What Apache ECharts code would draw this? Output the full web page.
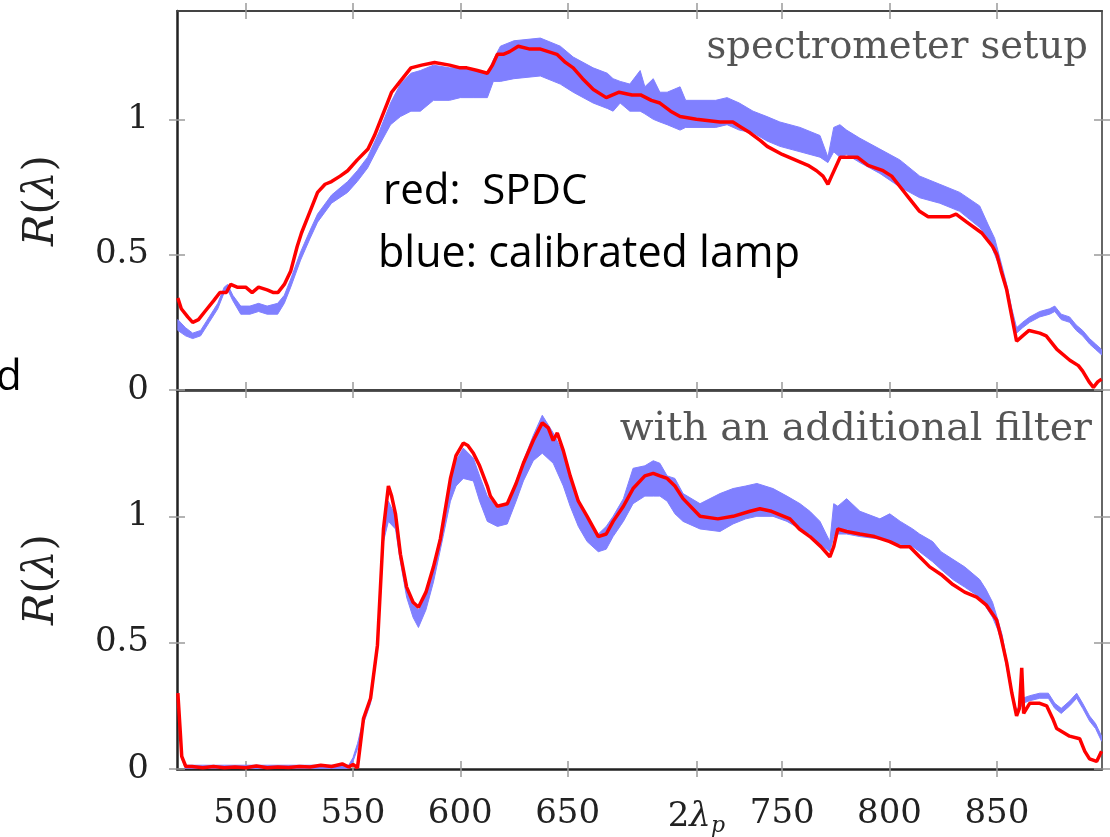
<!DOCTYPE html>
<html><head><meta charset="utf-8">
<script src="https://cdn.jsdelivr.net/npm/echarts@6/dist/echarts.min.js"></script>
<style>html,body{margin:0;padding:0;background:#fff}#c{width:1110px;height:837px}</style>
</head><body><div id="c"></div>
<script>
// ---------- data ----------
const xTickValues = [500, 550, 600, 650, 710, 750, 800, 850]; // 710 = 2*lambda_p
const yTickValues = [0, 0.5, 1];
const topTitle = 'spectrometer setup';
const bottomTitle = 'with an additional filter';
const noteRed = 'red:  SPDC';
const noteBlue = 'blue: calibrated lamp';

// top panel, SPDC (red): [wavelength nm, R]
const topSPDC = [
 [468.4,0.34],[470,0.30],[473,0.27],[475.3,0.25],[478,0.26],[481,0.29],[485.1,0.33],[488,0.36],[491,0.36],[493,0.39],
 [496,0.38],[500,0.38],[503,0.36],[506,0.38],[510,0.37],[513,0.36],[515,0.36],[518,0.39],[521,0.44],[524,0.53],
 [526,0.58],[530,0.66],[533.5,0.73],[537,0.76],[540,0.77],[544,0.79],[547.5,0.81],[552,0.85],[557,0.89],[560,0.94],
 [563,1.00],[566,1.06],[568,1.10],[572,1.14],[577,1.19],[582,1.20],[588,1.21],[595,1.20],[600,1.19],[603,1.19],
 [608,1.18],[612.6,1.17],[615,1.20],[617.3,1.24],[620,1.24],[623,1.25],[627,1.27],[632,1.26],[637,1.26],[641,1.25],
 [645,1.24],[649,1.21],[652.6,1.19],[657,1.15],[662,1.11],[668,1.08],[674,1.10],[680,1.09],[684,1.09],[689,1.07],
 [693,1.06],[698,1.03],[702.4,1.01],[710,1.00],[721,0.99],[727,0.99],[731,0.97],[735,0.95],[740,0.92],[743,0.90],
 [750,0.87],[756,0.85],[762,0.83],[766,0.81],[769,0.79],[771.3,0.76],[773,0.79],[777,0.86],[781,0.86],[785,0.86],
 [790,0.83],[797,0.81],[801,0.79],[805,0.75],[809,0.71],[814,0.66],[818,0.64],[823,0.64],[828,0.64],[831,0.65],
 [836,0.62],[843,0.58],[848,0.53],[850,0.50],[852,0.44],[854.6,0.37],[857,0.27],[859.2,0.18],[862,0.20],[865,0.22],
 [870,0.21],[873,0.20],[878,0.15],[884,0.11],[888,0.09],[890,0.07],[893,0.03],[895,0.01],[897,0.03],[898.8,0.04]
];
// top panel, calibrated lamp (blue band): [wavelength nm, low, high]
const topLamp = [
 [468.4,0.22,0.26],[472,0.20,0.23],[475.3,0.19,0.21],[479,0.20,0.22],[483,0.25,0.27],[487,0.30,0.32],[490,0.36,0.38],
 [491.6,0.37,0.39],[494,0.33,0.35],[497.7,0.28,0.31],[502,0.28,0.31],[506,0.29,0.32],[510,0.28,0.31],[514.9,0.28,0.32],
 [518,0.32,0.35],[521,0.38,0.41],[525.6,0.48,0.51],[530,0.56,0.59],[533.5,0.62,0.65],[540,0.69,0.72],[547.5,0.73,0.77],
 [552,0.77,0.81],[556.8,0.82,0.86],[562,0.90,0.95],[567.5,0.98,1.06],[572.1,1.01,1.13],[577,1.03,1.17],[581.4,1.03,1.18],
 [587.5,1.07,1.20],[595,1.07,1.19],[600,1.08,1.19],[606,1.08,1.18],[612.6,1.08,1.17],[615.4,1.14,1.22],[618.7,1.14,1.27],
 [625,1.15,1.29],[637.3,1.16,1.30],[646.6,1.13,1.27],[652.6,1.10,1.23],[661.9,1.06,1.19],[668.5,1.04,1.17],[671.2,1.03,1.15],
 [674.5,1.06,1.14],[679,1.03,1.13],[683.8,1.03,1.18],[686,1.02,1.12],[689.9,1.00,1.15],[693,0.99,1.10],[696.4,0.98,1.10],
 [702.4,0.96,1.12],[705,0.97,1.07],[711.7,0.97,1.07],[719,0.97,1.07],[724.3,0.98,1.08],[730,0.96,1.06],[736.4,0.95,1.03],
 [742.9,0.92,1.01],[748.9,0.90,0.99],[758.3,0.88,0.97],[767.6,0.86,0.94],[771.3,0.84,0.86],[774,0.88,0.97],[776.9,0.86,0.98],
 [780,0.87,0.96],[786.2,0.84,0.93],[795.5,0.80,0.89],[804.8,0.75,0.85],[814.1,0.71,0.79],[823.4,0.69,0.76],[832.7,0.66,0.73],
 [842,0.60,0.68],[846,0.56,0.61],[849,0.50,0.56],[852,0.44,0.47],[854.6,0.36,0.39],[857,0.28,0.30],[859.2,0.21,0.23],
 [862,0.23,0.25],[865.3,0.25,0.27],[870,0.27,0.29],[874.6,0.28,0.30],[877,0.29,0.31],[880,0.26,0.28],[883.9,0.25,0.27],
 [887,0.22,0.24],[890,0.20,0.22],[893.2,0.17,0.19],[896,0.15,0.17],[898.8,0.13,0.15]
];
// bottom panel, SPDC (red)
const bottomSPDC = [
 [468.4,0.30],[469.5,0.15],[470.2,0.05],[472.1,0.01],[475,0.01],[480,0.005],[485,0.01],[490,0.005],[495,0.008],[500,0.005],
 [505,0.012],[510,0.005],[515,0.008],[520,0.006],[525,0.01],[530,0.008],[535,0.015],[540,0.01],[545,0.02],[548,0.008],
 [550,0.018],[552.1,0.005],[554.9,0.20],[558.2,0.28],[561.4,0.49],[564.2,0.95],[566.5,1.12],[568,1.08],[569.8,1.01],[572.1,0.85],
 [575,0.72],[578,0.66],[580.5,0.64],[584,0.70],[587.5,0.80],[590.7,0.91],[595.4,1.15],[598,1.24],[601.4,1.29],[603.5,1.28],
 [606.1,1.25],[609,1.20],[612.6,1.12],[614,1.08],[617.3,1.04],[621.9,1.05],[626,1.13],[629.4,1.21],[634,1.30],[638.2,1.37],
 [641,1.35],[643.3,1.30],[645.2,1.33],[648,1.26],[651.2,1.16],[655,1.06],[659.1,1.00],[664.3,0.92],[668,0.93],[671.2,0.98],
 [676,1.04],[680.5,1.11],[686,1.16],[689.9,1.17],[693,1.16],[696.4,1.15],[700,1.12],[703.8,1.07],[711.7,1.00],[720,0.99],
 [727.1,1.00],[735,1.02],[739.6,1.03],[745,1.02],[753.6,0.99],[758,0.95],[762.9,0.92],[768,0.88],[772.2,0.84],[774,0.88],
 [775.9,0.95],[780,0.94],[786.2,0.93],[793,0.92],[800.1,0.90],[805,0.88],[809.4,0.88],[814,0.84],[818.7,0.80],[824,0.77],
 [829.5,0.73],[835,0.70],[840.6,0.68],[845,0.65],[849.9,0.59],[852,0.52],[854.6,0.42],[857,0.30],[859.2,0.21],[860.5,0.24],
 [861.6,0.40],[862.5,0.22],[865.3,0.26],[870,0.26],[873.2,0.25],[876,0.20],[877.9,0.16],[883.9,0.13],[888.6,0.12],[891,0.07],
 [893.2,0.04],[896.5,0.03],[898.8,0.07]
];
// bottom panel, calibrated lamp (blue band): [wavelength nm, low, high]
const bottomLamp = [
 [468.4,0.28,0.30],[470.2,0.04,0.06],[472,0.0,0.015],[548,0.0,0.015],[550,0.03,0.045],[552.1,0.08,0.10],[554.9,0.18,0.20],
 [558.2,0.26,0.29],[561.4,0.47,0.50],[564.2,0.90,0.94],[566.5,0.98,1.06],[569.8,0.95,1.00],[572.1,0.82,0.86],[575,0.68,0.72],
 [578,0.60,0.65],[580.5,0.56,0.63],[584,0.63,0.69],[587.5,0.74,0.80],[592,0.92,0.98],[595.4,1.06,1.14],[598,1.12,1.22],
 [601.4,1.15,1.27],[606.1,1.14,1.23],[609,1.06,1.16],[612.6,0.98,1.08],[617.3,0.96,1.03],[621.9,0.97,1.05],[626,1.06,1.14],
 [629.4,1.14,1.22],[634,1.22,1.32],[638.2,1.25,1.40],[643.3,1.21,1.33],[648,1.12,1.25],[651.2,1.04,1.14],[655,0.96,1.05],
 [659.1,0.90,0.99],[664.3,0.86,0.93],[668,0.87,0.96],[671.2,0.92,1.00],[676,0.98,1.07],[680.5,1.05,1.19],[686,1.08,1.20],
 [689.9,1.08,1.22],[693,1.08,1.21],[696.4,1.06,1.16],[700,1.01,1.15],[703.8,0.98,1.09],[711.7,0.95,1.05],[721,0.94,1.09],
 [727.1,0.97,1.11],[733,0.99,1.12],[738.2,1.00,1.13],[745.7,1.00,1.11],[752.2,0.98,1.08],[758.3,0.95,1.05],[762.9,0.93,1.02],
 [767.6,0.89,0.98],[772.2,0.86,0.90],[774,0.92,1.05],[775.9,0.93,1.04],[780,0.93,1.07],[786.2,0.92,1.02],[795.5,0.91,0.99],
 [800.1,0.90,1.01],[805,0.89,0.98],[810.8,0.88,0.95],[814,0.86,0.93],[820.1,0.82,0.90],[824,0.79,0.86],[829.5,0.75,0.83],
 [835,0.72,0.80],[842,0.68,0.75],[845,0.64,0.71],[848,0.60,0.66],[850.5,0.55,0.59],[852.5,0.49,0.53],[854.6,0.40,0.43],
 [857,0.29,0.31],[859.2,0.21,0.23],[862,0.26,0.28],[865.3,0.27,0.29],[870,0.28,0.30],[874,0.28,0.30],[877,0.24,0.26],
 [880,0.22,0.24],[884,0.25,0.27],[887.2,0.28,0.30],[890,0.24,0.26],[893.2,0.19,0.21],[896,0.16,0.18],[898.8,0.11,0.13]
];

// ---------- chart ----------
const SERIF = 'DejaVu Serif';
const SANS = 'Open Sans';
const X_MIN = 468, X_MAX = 899;
const TOP_MAX = 1.4, BOTTOM_MAX = 1.5;
const RED = '#ff0000', BLUE = '#8080ff';
const tickStyle = {color: '#9a9a9a', width: 1.5};
const frameStyle = {color: '#222', width: 2.5};

function xAxes(g, labels) {
  const base = {type: 'value', gridIndex: g, min: X_MIN, max: X_MAX, splitLine: {show: false}};
  const lbl = labels ? {
    show: true, customValues: xTickValues, margin: 28,
    fontFamily: SERIF, fontSize: 34, color: '#222',
    formatter: v => v === 710 ? '{n|2}{i|λ}{s|p}' : String(v),
    rich: {
      n: {fontFamily: SERIF, fontSize: 34, color: '#222'},
      i: {fontFamily: SERIF, fontSize: 34, color: '#222', fontStyle: 'italic'},
      s: {fontFamily: SERIF, fontSize: 22, color: '#222', fontStyle: 'italic', padding: [18, 0, 0, 0]}
    }
  } : {show: false};
  return [
    Object.assign({}, base, {position: 'bottom', axisLine: {show: true, onZero: false, lineStyle: frameStyle},
      axisTick: {show: true, inside: false, length: 8, customValues: xTickValues, lineStyle: tickStyle}, axisLabel: lbl}),
    Object.assign({}, base, {position: 'bottom', axisLine: {show: false, onZero: false},
      axisTick: {show: true, inside: true, length: 8, customValues: xTickValues, lineStyle: tickStyle}, axisLabel: {show: false}}),
    Object.assign({}, base, {position: 'top', axisLine: {show: true, onZero: false, lineStyle: {color: '#444', width: 2}},
      axisTick: {show: true, inside: false, length: 8, customValues: xTickValues, lineStyle: tickStyle}, axisLabel: {show: false}}),
    Object.assign({}, base, {position: 'top', axisLine: {show: false, onZero: false},
      axisTick: {show: true, inside: true, length: 8, customValues: xTickValues, lineStyle: tickStyle}, axisLabel: {show: false}})
  ];
}
function yAxes(g, max) {
  const base = {type: 'value', gridIndex: g, min: 0, max: max, splitLine: {show: false}};
  return [
    Object.assign({}, base, {position: 'left', axisLine: {show: true, onZero: false, lineStyle: frameStyle},
      axisTick: {show: true, inside: false, length: 8, customValues: yTickValues, lineStyle: tickStyle},
      axisLabel: {show: true, customValues: yTickValues, margin: 28, fontFamily: SERIF, fontSize: 34, color: '#222',
        formatter: v => String(v)},
      name: '{i|R}({i|λ})', nameLocation: 'middle', nameGap: 114, nameRotate: 90,
      nameTextStyle: {fontFamily: SERIF, fontSize: 42, color: '#222',
        rich: {i: {fontFamily: SERIF, fontSize: 42, color: '#222', fontStyle: 'italic'}}}}),
    Object.assign({}, base, {position: 'left', axisLine: {show: false, onZero: false},
      axisTick: {show: true, inside: true, length: 8, customValues: yTickValues, lineStyle: tickStyle}, axisLabel: {show: false}}),
    Object.assign({}, base, {position: 'right', axisLine: {show: true, onZero: false, lineStyle: {color: '#666', width: 2}},
      axisTick: {show: true, inside: false, length: 8, customValues: yTickValues, lineStyle: tickStyle}, axisLabel: {show: false}}),
    Object.assign({}, base, {position: 'right', axisLine: {show: false, onZero: false},
      axisTick: {show: true, inside: true, length: 8, customValues: yTickValues, lineStyle: tickStyle}, axisLabel: {show: false}})
  ];
}
function panelSeries(g, lamp, spdc) {
  const xi = g * 4, yi = g * 4;
  return [
    {type: 'custom', xAxisIndex: xi, yAxisIndex: yi, silent: true, clip: true,
     data: lamp.map(d => [d[0], d[1], d[2]]),
     encode: {x: 0, y: [1, 2]},
     renderItem: function (params, api) {
       if (params.dataIndex !== 0) return null;
       const pts = [];
       for (let i = 0; i < lamp.length; i++) pts.push(api.coord([lamp[i][0], lamp[i][2]]));
       for (let i = lamp.length - 1; i >= 0; i--) pts.push(api.coord([lamp[i][0], lamp[i][1]]));
       return {type: 'polygon', shape: {points: pts}, style: {fill: BLUE, stroke: BLUE, lineWidth: 1}};
     }},
    {type: 'line', xAxisIndex: xi, yAxisIndex: yi, symbol: 'none', silent: true,
     lineStyle: {width: 3.5, color: RED}, data: spdc}
  ];
}

const chart = echarts.init(document.getElementById('c'), null, {renderer: 'canvas'});
chart.setOption({
  animation: false,
  backgroundColor: '#fff',
  grid: [
    {left: 177, top: 11, width: 925, height: 379},
    {left: 177, top: 390, width: 925, height: 380}
  ],
  xAxis: xAxes(0, false).concat(xAxes(1, true)),
  yAxis: yAxes(0, TOP_MAX).concat(yAxes(1, BOTTOM_MAX)),
  series: panelSeries(0, topLamp, topSPDC).concat(panelSeries(1, bottomLamp, bottomSPDC)),
  graphic: [
    {type: 'text', x: 1088, y: 48, style: {text: topTitle, fill: '#555', fontFamily: SERIF, fontSize: 38.5, align: 'right', verticalAlign: 'middle'}},
    {type: 'text', x: 1092, y: 430, style: {text: bottomTitle, fill: '#555', fontFamily: SERIF, fontSize: 39.5, align: 'right', verticalAlign: 'middle'}},
    {type: 'text', x: 383, y: 192, style: {text: noteRed, fill: '#000', fontFamily: SANS, fontSize: 42, align: 'left', verticalAlign: 'middle'}},
    {type: 'text', x: 378, y: 255, style: {text: noteBlue, fill: '#000', fontFamily: SANS, fontSize: 43, align: 'left', verticalAlign: 'middle'}},
    {type: 'text', x: -4, y: 378, style: {text: 'd', fill: '#000', fontFamily: SANS, fontSize: 42, align: 'left', verticalAlign: 'middle'}}
  ]
});
</script></body></html>
